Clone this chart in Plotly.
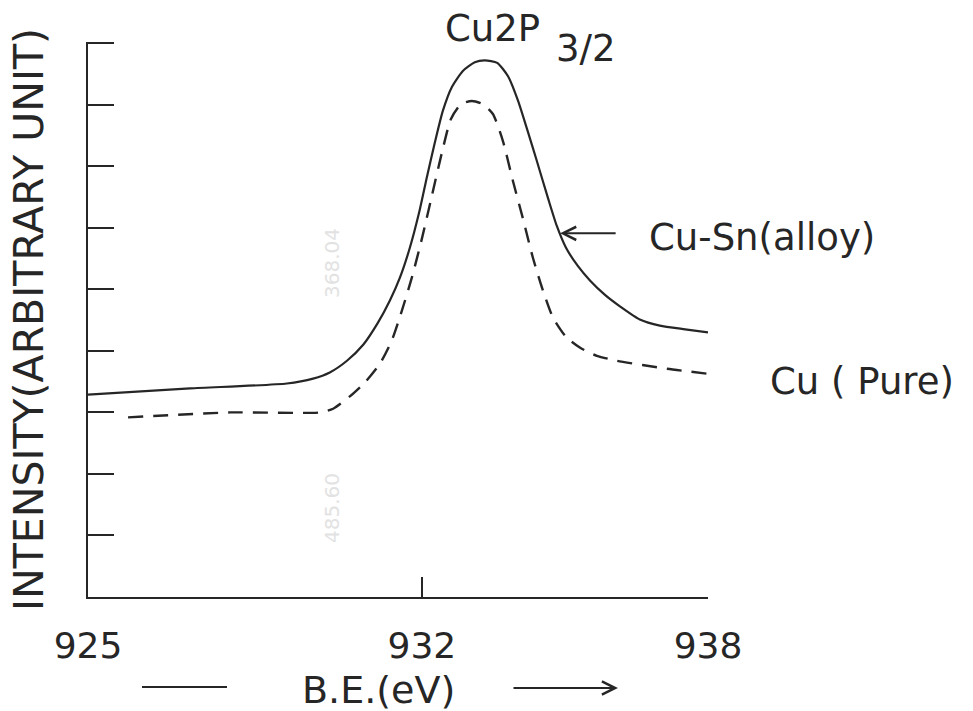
import plotly.graph_objects as go

# Cu 2p3/2 XPS spectra: binding energy (eV) vs intensity (arbitrary units)
be_alloy = [925.00, 927.14, 929.17, 929.72, 930.07, 930.43, 930.77, 931.08, 931.33,
            931.54, 931.75, 931.94, 932.11, 932.28, 932.44, 932.63, 932.86, 933.11,
            933.32, 933.58, 933.81, 934.02, 934.20, 934.41, 934.65, 934.83, 935.02,
            935.27, 935.53, 935.84, 936.16, 936.57, 936.99, 937.52, 938.00]
int_alloy = [3.29, 3.39, 3.47, 3.55, 3.65, 3.84, 4.10, 4.46, 4.82,
             5.19, 5.68, 6.24, 6.84, 7.41, 7.90, 8.29, 8.55, 8.69,
             8.72, 8.68, 8.46, 8.06, 7.62, 7.09, 6.47, 6.03, 5.68,
             5.38, 5.14, 4.91, 4.72, 4.51, 4.41, 4.35, 4.30]

be_pure = [925.84, 927.98, 929.86, 930.14, 930.49, 930.81, 931.12, 931.37, 931.58,
           931.79, 932.00, 932.21, 932.42, 932.61, 932.82, 933.05, 933.28, 933.49,
           933.70, 933.91, 934.12, 934.33, 934.54, 934.75, 935.02, 935.32, 935.67,
           936.09, 937.14, 937.98]
int_pure = [2.92, 3.00, 3.00, 3.06, 3.26, 3.49, 3.79, 4.17, 4.65,
            5.19, 5.82, 6.52, 7.22, 7.77, 8.01, 8.06, 8.01, 7.85,
            7.41, 6.76, 6.15, 5.51, 4.98, 4.54, 4.23, 4.05, 3.92,
            3.84, 3.71, 3.63]

x_ticks = [925, 932, 938]
x_tick_text = ["925", "932", "938"]
y_ticks = [0, 1, 2, 3, 4, 5, 6, 7, 8, 9]

peak_label = "Cu2P"
peak_sub = "3/2"
alloy_label = "Cu-Sn(alloy)"
pure_label = "Cu ( Pure)"
arrow_point = (934.90, 5.91)

INK = "#262626"
FONT = "DejaVu Sans"

fig = go.Figure()
fig.add_trace(go.Scatter(
    x=be_alloy, y=int_alloy, mode="lines", name=alloy_label,
    line=dict(color=INK, width=2.2, shape="spline", smoothing=0.6),
))
fig.add_trace(go.Scatter(
    x=be_pure, y=int_pure, mode="lines", name=pure_label,
    line=dict(color=INK, width=2.4, shape="spline", smoothing=0.6, dash="15px,10px"),
))

annotations = [
    # peak label
    dict(text=peak_label, x=492, y=28),
    dict(text=peak_sub, x=586, y=48),
    # curve labels
    dict(text=alloy_label, x=762, y=238),
    dict(text=pure_label, x=862, y=381),
    # axis title
    dict(text="B.E.(eV)", x=378, y=690, size=38),
]

# layout geometry in pixels
W, H = 973, 711
L, R, T, B = 88, 265, 42, 114
PW, PH = W - L - R, H - T - B


def px_to_paper(px, py):
    return (px - L) / PW, 1 - (py - T) / PH


anns = []
for a in annotations:
    px, py = px_to_paper(a["x"], a["y"])
    anns.append(dict(
        text=a["text"], x=px, y=py, xref="paper", yref="paper",
        xanchor="center", yanchor="middle", showarrow=False,
        font=dict(family=FONT, size=a.get("size", 37), color=INK),
    ))

# arrow from label to the alloy curve
anns.append(dict(
    x=arrow_point[0], y=arrow_point[1], xref="x", yref="y",
    ax=57, ay=0, text="", showarrow=True,
    arrowhead=5, arrowsize=1.3, arrowwidth=2, arrowcolor=INK,
))

# arrow and dash decorating the x title
ax1, ay1 = px_to_paper(618, 688)
anns.append(dict(
    x=ax1, y=ay1, xref="paper", yref="paper",
    ax=-106, ay=0,
    text="", showarrow=True, arrowhead=5, arrowsize=1.3,
    arrowwidth=2, arrowcolor=INK,
))
dx0, dy0 = px_to_paper(142, 687)
dx1, dy1 = px_to_paper(227, 687)

# faint show-through numbers on the paper
for txt, (gx, gy) in [("368.04", (332, 263)), ("485.60", (332, 545))]:
    gpx, gpy = px_to_paper(gx, gy)
    anns.append(dict(
        text=txt, x=gpx, y=gpy, xref="paper", yref="paper", textangle=-90,
        showarrow=False, font=dict(family=FONT, size=20, color="#e2e2e2"),
    ))

fig.update_layout(
    width=W, height=H,
    margin=dict(l=L, r=R, t=T, b=B),
    paper_bgcolor="white", plot_bgcolor="white",
    showlegend=False,
    annotations=anns,
    shapes=[dict(type="line", xref="paper", yref="paper",
                 x0=dx0, y0=dy0, x1=dx1, y1=dy1,
                 line=dict(color=INK, width=2))],
    font=dict(family=FONT, color=INK),
)

fig.update_xaxes(
    range=[925, 938], tickvals=x_ticks, ticktext=x_tick_text,
    showline=True, linecolor=INK, linewidth=2,
    ticks="inside", ticklen=20, tickwidth=2, tickcolor=INK,
    showgrid=False, zeroline=False,
    tickfont=dict(family=FONT, size=36, color=INK),
    ticklabelstandoff=16,
)
fig.update_yaxes(
    range=[0, 9.02], tickvals=y_ticks, showticklabels=False,
    showline=True, linecolor=INK, linewidth=2,
    ticks="inside", ticklen=26, tickwidth=2, tickcolor=INK,
    showgrid=False, zeroline=False,
    title=dict(text="INTENSITY(ARBITRARY UNIT)", standoff=30,
               font=dict(family=FONT, size=41, color=INK)),
)

fig.write_html("out.html")
